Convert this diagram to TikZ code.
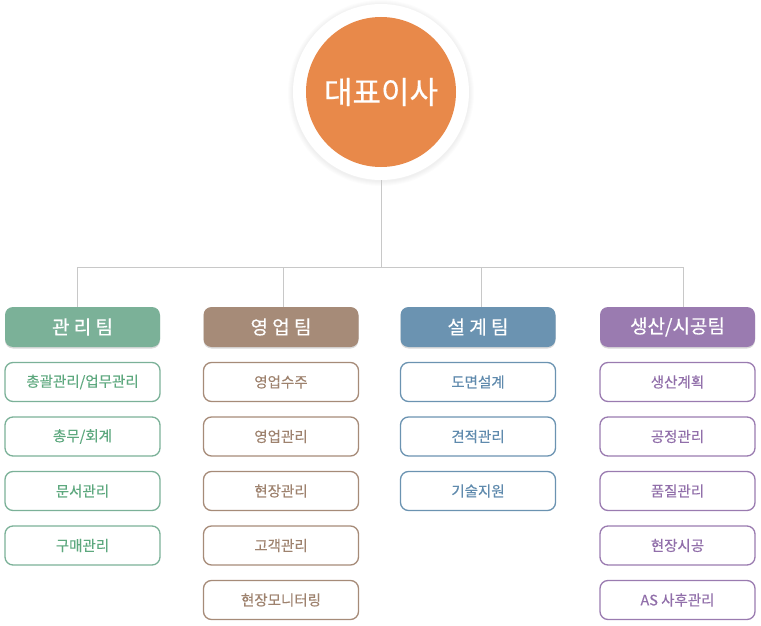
\documentclass[tikz,border=0pt]{standalone}
\usepackage{fontspec}
\newfontfamily\kr{Noto Sans CJK KR}
\newfontfamily\krm[FakeBold=0.35]{Noto Sans CJK KR}
\usetikzlibrary{shadows,calc}
\definecolor{cOrange}{HTML}{E8894A}
\definecolor{cGreen}{HTML}{7BB198}
\definecolor{cBrown}{HTML}{A68B78}
\definecolor{cBlue}{HTML}{6B93B1}
\definecolor{cPurple}{HTML}{9A7BB0}
\definecolor{tGreen}{HTML}{5DA87E}
\definecolor{tBrown}{HTML}{9E826E}
\definecolor{tBlue}{HTML}{5F8AAD}
\definecolor{tPurple}{HTML}{916FAA}
\definecolor{cLine}{HTML}{C8C8C8}
\tikzset{
  hdr/.style={rounded corners=8pt, minimum width=155pt, minimum height=40pt, inner sep=0pt,
    text=white, font=\krm\fontsize{19}{19}\selectfont,
    drop shadow={shadow xshift=0pt, shadow yshift=-1.5pt, opacity=0.15, fill=black}},
  itm/.style={rounded corners=8pt, minimum width=155pt, minimum height=39pt, inner sep=0pt,
    fill=white, line width=1.3pt, font=\krm\fontsize{14.5}{14.5}\selectfont},
  conn/.style={draw=cLine, line width=1pt},
}
\begin{document}
\begin{tikzpicture}[x=1pt,y=-1pt]
\useasboundingbox (0,0) rectangle (761,626);
% halo
\foreach \r in {93,92,91,90,89}{
  \fill[black,opacity=0.012] (381,93) circle (\r);
}
\node[circle, fill=white, minimum size=176pt, inner sep=0pt] (halo) at (381,92) {};
\node[circle, fill=cOrange, minimum size=150pt, inner sep=0pt, text=white,
  font=\krm\fontsize{31}{31}\selectfont] (ceo) at (381,92) {대표이사};

% headers
\node[hdr, fill=cGreen]  (h1) at (82.5,327) {관 리 팀};
\node[hdr, fill=cBrown]  (h2) at (281,327) {영 업 팀};
\node[hdr, fill=cBlue]   (h3) at (478,327) {설 계 팀};
\node[hdr, fill=cPurple] (h4) at (677.5,327) {생산/시공팀};

% connectors
\coordinate (bus) at (381,267);
\draw[conn] (halo.south) -- (bus);
\draw[conn] ([xshift=-5.5pt]h1.north) |- (bus);
\draw[conn] ([xshift=2pt]h2.north) |- (bus);
\draw[conn] ([xshift=3pt]h3.north) |- (bus);
\draw[conn] ([xshift=5.5pt]h4.north) |- (bus);

% items
\foreach \t [count=\i] in {총괄관리/업무관리,총무/회계,문서관리,구매관리}{
  \node[itm, draw=cGreen, text=tGreen] (g\i) at (82.5,{382+54.5*(\i-1)}) {\t};
}
\foreach \t [count=\i] in {영업수주,영업관리,현장관리,고객관리,현장모니터링}{
  \node[itm, draw=cBrown, text=tBrown] (b\i) at (281,{382+54.5*(\i-1)}) {\t};
}
\foreach \t [count=\i] in {도면설계,견적관리,기술지원}{
  \node[itm, draw=cBlue, text=tBlue] (u\i) at (478,{382+54.5*(\i-1)}) {\t};
}
\foreach \t [count=\i] in {생산계획,공정관리,품질관리,현장시공,AS 사후관리}{
  \node[itm, draw=cPurple, text=tPurple] (p\i) at (677.5,{382+54.5*(\i-1)}) {\t};
}
\end{tikzpicture}
\end{document}
